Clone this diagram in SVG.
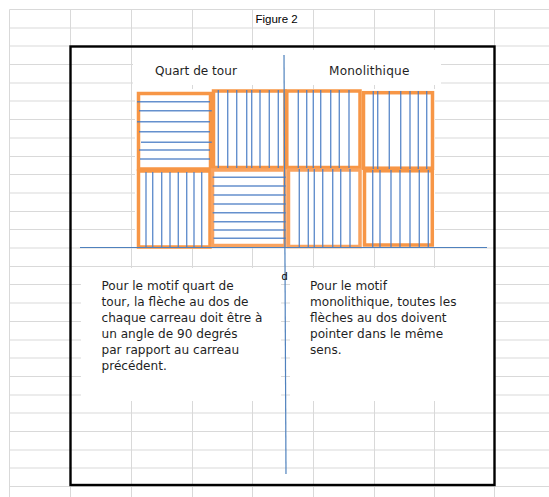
<svg xmlns="http://www.w3.org/2000/svg" width="549" height="497" viewBox="0 0 549 497">
<style>
.grid{stroke:#d9d9d9;stroke-width:1;fill:none}
.mask{fill:#ffffff}
.frame{fill:none;stroke:#000000;stroke-width:2.4}
.tile{fill:#ffffff;stroke:#f79646;stroke-width:3.5}
.ln{stroke:#4a7cc4;stroke-width:1.4;stroke-opacity:0.85;fill:none}
.axis{stroke:#4f81bd;stroke-width:1.2;fill:none}
.t{font-family:"DejaVu Sans","Open Sans",sans-serif;font-size:12.1px;fill:#1f1f1f}
.s{font-family:"Liberation Sans",Arial,sans-serif;font-size:11.5px;fill:#000000}
</style>
<rect width="549" height="497" fill="#ffffff"/>
<g id="grid" class="grid">
<path d="M9.5 9.5H549M9.5 28H549M9.5 46H549M9.5 64.5H549M9.5 83H549M9.5 101H549M9.5 119.5H549M9.5 138H549M9.5 156.5H549M9.5 174.5H549M9.5 193H549M9.5 211.5H549M9.5 229.5H549M9.5 248H549M9.5 266.5H549M9.5 284.5H549M9.5 303H549M9.5 321.5H549M9.5 340H549M9.5 358H549M9.5 376.5H549M9.5 395H549M9.5 413H549M9.5 431.5H549M9.5 450H549M9.5 468H549M9.5 486.5H549"/>
<path d="M9.5 9.5V497M70.5 9.5V497M131.5 9.5V497M192.5 9.5V497M252.5 9.5V497M313.5 9.5V497M374.5 9.5V497M434.5 9.5V497M494.5 9.5V497"/>
</g>
<g id="masks" class="mask">
<rect x="133" y="50" width="308" height="35"/>
<rect x="135" y="89" width="300" height="159"/>
<rect x="81" y="268" width="200" height="133"/>
<rect x="290" y="268" width="204" height="133"/>
</g>
<rect id="frame" class="frame" x="70.5" y="46.5" width="424" height="438.5"/>
<g id="figure-title"><text class="s" x="255.5" y="22.5">Figure 2</text></g>
<g id="label-quart"><text class="t" x="155" y="74.5">Quart de tour</text></g>
<g id="label-mono"><text class="t" x="329" y="74.5" style="letter-spacing:0.2px">Monolithique</text></g>
<g id="tile-a">
<rect class="tile" x="138.5" y="93.5" width="72" height="75.5"/>
<path class="ln" d="M137 101.7H210M139 110.7H212M137 121.7H210M139 131.7H210M141 142.3H212M139 150H210M140 159H210"/>
</g>
<g id="tile-c">
<rect class="tile" x="138.5" y="171" width="71.5" height="76"/>
<path class="ln" d="M146 172V248M152.7 172V248M161.7 172V248M170 172V248M178.3 172V248M186.7 172V248M194 172V248M201.7 172V248"/>
</g>
<g id="tile-b">
<rect class="tile" x="213.5" y="91" width="71.5" height="76.5"/>
<path class="ln" d="M218.3 90V168M227.7 90V168M236.7 90V168M246.7 90V168M251.7 90V168M260 90V168M269.3 90V168M278.3 90V168"/>
</g>
<g id="tile-d">
<rect class="tile" x="212.5" y="170" width="72.5" height="75.5" style="stroke:#f9a35f"/>
<path class="ln" d="M212.7 177.3H285.7M212.7 186H285.7M213.5 195H285.7M213.5 204H285.7M212.7 212.7H285.7M213.5 221.7H285.7M213.5 230H285.7M213.5 238.3H285.7"/>
</g>
<g id="tile-e">
<rect class="tile" x="286.8" y="91" width="73.2" height="76.5"/>
<path class="ln" d="M298.3 90V168M306.7 90V168M313.3 90V168M320.7 90V168M330.7 90V168M339.3 90V168M349 90V168"/>
</g>
<g id="tile-f">
<rect class="tile" x="363.5" y="92.7" width="69" height="75.5"/>
<path class="ln" d="M373.3 91V169M377.7 91V169M389.3 91V169M400.7 91V169M410 91V169M418.3 91V169M426.7 91V169"/>
</g>
<g id="tile-g">
<rect class="tile" x="288.5" y="170" width="71.5" height="76.5" style="stroke:#f9a35f"/>
<path class="ln" d="M299.3 169V248M308.3 169V248M314.3 169V248M322.7 169V248M332.7 169V248M340.7 169V248M350 169V248"/>
</g>
<g id="tile-h">
<rect class="tile" x="364.5" y="170.8" width="67.8" height="74.2"/>
<path class="ln" d="M372.7 170V247M380 170V247M391 170V247M400 170V247M410 170V247M419.3 170V247M428.3 170V247"/>
</g>
<g id="connectors">
<path class="axis" d="M80 247.5H487"/>
<path class="axis" d="M284 55L286 474"/>
</g>
<g id="label-d"><text class="s" x="281.5" y="279.5" style="font-size:11px">d</text></g>
<g id="text-quart">
<text class="t" x="101.5" y="289.5">Pour le motif quart de</text>
<text class="t" x="101.5" y="305.5">tour, la flèche au dos de</text>
<text class="t" x="101.5" y="321.5">chaque carreau doit être à</text>
<text class="t" x="101.5" y="337.5">un angle de 90 degrés</text>
<text class="t" x="101.5" y="353.5">par rapport au carreau</text>
<text class="t" x="101.5" y="369.5">précédent.</text>
</g>
<g id="text-mono">
<text class="t" x="310" y="290">Pour le motif</text>
<text class="t" x="310" y="306">monolithique, toutes les</text>
<text class="t" x="310" y="322">flèches au dos doivent</text>
<text class="t" x="310" y="338">pointer dans le même</text>
<text class="t" x="310" y="354">sens.</text>
</g>
</svg>
